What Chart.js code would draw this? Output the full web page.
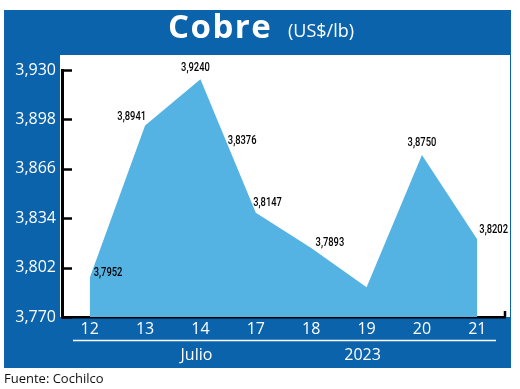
<!DOCTYPE html>
<html>
<head>
<meta charset="utf-8">
<script src="https://cdn.jsdelivr.net/npm/chart.js@4"></script>
<style>
  html, body { margin: 0; padding: 0; background: #fff; }
  #wrap { width: 520px; height: 389px; }
</style>
</head>
<body>
<div id="wrap"><canvas id="chart" width="520" height="389"></canvas></div>
<script>
// ================== DATA ==================
const days = ["12", "13", "14", "17", "18", "19", "20", "21"];
const prices = [3.7952, 3.8941, 3.9240, 3.8376, 3.8147, 3.7893, 3.8750, 3.8202];
const yTicks = [3.770, 3.802, 3.834, 3.866, 3.898, 3.930];
const monthLabel = "Julio";
const yearLabel = "2023";

// label offsets (px) relative to each point: [dx, dy, align]
const labelPos = [
  [4, -5, 'left'], [1, -8, 'right'], [-5, -11, 'center'], [-28, -72, 'left'],
  [-58, -45, 'left'], [-51, -44, 'left'], [0, -12, 'center'], [2, -10, 'left']
];

const DARK = '#0b63ac';
const LIGHT = '#55b3e3';
const fmt = v => v.toFixed(3).replace('.', ',');
const fmt4 = v => v.toFixed(4).replace('.', ',');

// ================== FRAME ==================
const framePlugin = {
  id: 'frame',
  beforeDraw(chart){
    const {ctx, chartArea: a} = chart;
    ctx.save();
    ctx.fillStyle = '#fff';
    ctx.fillRect(0, 0, chart.width, chart.height);
    ctx.fillStyle = DARK;
    ctx.fillRect(4, 10, 507, 358);
    ctx.fillStyle = '#fff';
    ctx.fillRect(a.left - 2, 55, 510 - a.left + 2, a.bottom - 55);
    ctx.restore();
  },
  afterDraw(chart){
    const {ctx, chartArea: a} = chart;
    const y = chart.scales.y, x = chart.scales.x;
    ctx.save();
    // inward y ticks
    ctx.strokeStyle = '#000';
    ctx.lineWidth = 2.5;
    y.ticks.forEach((t, i) => {
      const py = Math.round(y.getPixelForTick(i)) + 0.5;
      ctx.beginPath();
      ctx.moveTo(a.left, py);
      ctx.lineTo(a.left + 10, py);
      ctx.stroke();
    });
    ctx.beginPath();
    ctx.moveTo(a.right, a.bottom);
    ctx.lineTo(a.right, a.bottom - 6);
    ctx.stroke();

    // separator line + month / year
    ctx.strokeStyle = '#fff';
    ctx.lineWidth = 1.5;
    ctx.beginPath();
    ctx.moveTo(a.left + 11, 340.5);
    ctx.lineTo(a.right - 9, 340.5);
    ctx.stroke();
    ctx.fillStyle = '#fff';
    ctx.font = '16px "Open Sans"';
    ctx.textAlign = 'center';
    ctx.textBaseline = 'middle';
    ctx.fillText(monthLabel, x.getPixelForValue(2) - 4, 355);
    ctx.fillText(yearLabel, x.getPixelForValue(5) - 4, 355);

    // title
    ctx.textBaseline = 'alphabetic';
    ctx.textAlign = 'left';
    ctx.font = 'bold 33px "Open Sans"';
    ctx.letterSpacing = '1.5px';
    ctx.fillText('Cobre', 168, 38);
    ctx.letterSpacing = '0px';
    ctx.font = '18px "Open Sans"';
    ctx.fillText('(US$/lb)', 288, 37);

    // source
    ctx.fillStyle = '#111';
    ctx.font = '13px "Open Sans"';
    ctx.fillText('Fuente: Cochilco', 4, 383);

    // data labels (condensed by horizontal scaling)
    ctx.fillStyle = '#000';
    ctx.font = '500 12px Roboto';
    ctx.textBaseline = 'middle';
    const sx = 0.78;
    const meta = chart.getDatasetMeta(0);
    meta.data.forEach((pt, i) => {
      const [dx, dy, al] = labelPos[i];
      ctx.save();
      ctx.translate(pt.x + dx, pt.y + dy);
      ctx.scale(sx, 1);
      ctx.textAlign = al;
      ctx.fillText(fmt4(prices[i]), 0, 0);
      ctx.restore();
    });
    ctx.restore();
  }
};

// ================== CHART ==================
new Chart(document.getElementById('chart').getContext('2d'), {
  type: 'line',
  data: {
    labels: days,
    datasets: [{
      data: prices,
      fill: 'start',
      backgroundColor: LIGHT,
      borderWidth: 0,
      pointRadius: 0,
      tension: 0
    }]
  },
  options: {
    responsive: false,
    animation: false,
    layout: { padding: { left: 0, right: 15, top: 70, bottom: 0 } },
    plugins: { legend: { display: false }, tooltip: { enabled: false }, title: { display: false } },
    scales: {
      x: {
        offset: true,
        grid: { display: false, drawTicks: false },
        border: { color: '#000', width: 2.5 },
        ticks: { color: '#fff', font: { family: 'Open Sans', size: 16 }, padding: 3, maxRotation: 0 },
        afterFit(s){ s.height = 72; }
      },
      y: {
        min: 3.770,
        max: 3.930,
        grid: { display: false, drawTicks: false },
        border: { color: '#000', width: 3 },
        ticks: { color: '#fff', font: { family: 'Open Sans', size: 16 }, padding: 6, callback: v => fmt(v) },
        afterBuildTicks(s){ s.ticks = yTicks.map(v => ({ value: v })); },
        afterFit(s){ s.width = 62; }
      }
    }
  },
  plugins: [framePlugin]
});
</script>
</body>
</html>
